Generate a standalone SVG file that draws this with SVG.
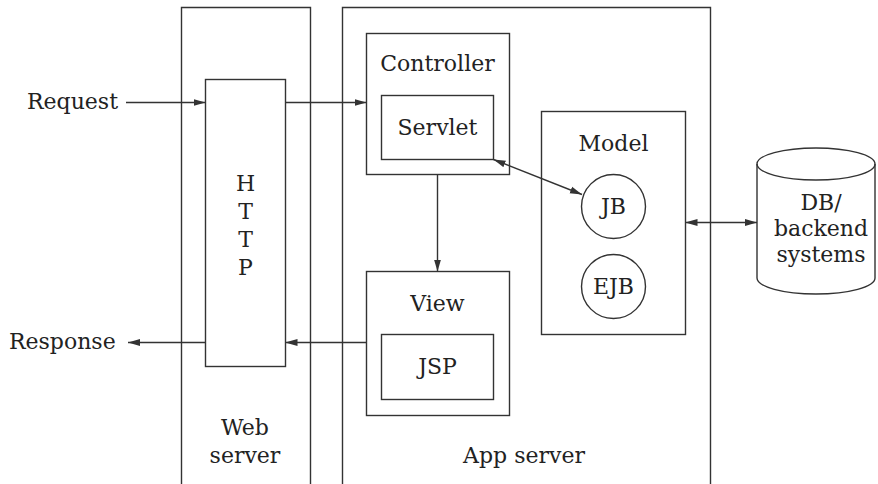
<svg xmlns="http://www.w3.org/2000/svg" width="878" height="484" viewBox="0 0 878 484">
<style>
.b{fill:none;stroke:#333;stroke-width:1.4}
.c{fill:none;stroke:#333;stroke-width:1.4}
text{font-family:"DejaVu Serif","Liberation Serif",serif;font-size:22px;fill:#222}
.m{text-anchor:middle}
</style>
<defs>
<marker id="ah" viewBox="0 0 12 8" refX="12" refY="4" markerWidth="12" markerHeight="8" markerUnits="userSpaceOnUse" orient="auto-start-reverse">
<path d="M0,0.5 L12,4 L0,7.5 Z" fill="#333"/>
</marker>
</defs>
<g id="web-server">
<path class="b" d="M181.5,484 V7.5 H310.5 V484"/>
<text class="m" x="245" y="435">Web</text>
<text class="m" x="245" y="463">server</text>
</g>
<g id="app-server">
<path class="b" d="M342.5,484 V7.5 H710.5 V484"/>
<text class="m" x="524" y="463">App server</text>
</g>
<g id="http">
<rect class="b" x="205.5" y="79.5" width="80" height="287"/>
<text class="m" x="245.5" y="191">H</text>
<text class="m" x="245.5" y="219">T</text>
<text class="m" x="245.5" y="247">T</text>
<text class="m" x="245.5" y="275">P</text>
</g>
<g id="controller">
<rect class="b" x="366.5" y="33.5" width="143" height="141"/>
<text class="m" x="437.5" y="71">Controller</text>
</g>
<g id="servlet">
<rect class="b" x="381.5" y="95.5" width="112" height="64"/>
<text class="m" x="437.5" y="135">Servlet</text>
</g>
<g id="view">
<rect class="b" x="366.5" y="271.5" width="143" height="144"/>
<text class="m" x="437.5" y="311">View</text>
</g>
<g id="jsp">
<rect class="b" x="381.5" y="334.5" width="112" height="65"/>
<text class="m" x="437.5" y="374">JSP</text>
</g>
<g id="model">
<rect class="b" x="541.5" y="111.5" width="144" height="223"/>
<text class="m" x="613.5" y="151">Model</text>
</g>
<g id="jb">
<circle class="b" cx="613.5" cy="206.5" r="32"/>
<text class="m" x="613.5" y="214">JB</text>
</g>
<g id="ejb">
<circle class="b" cx="613.5" cy="286.5" r="32"/>
<text class="m" x="613.5" y="294">EJB</text>
</g>
<g id="db">
<path class="b" d="M757,164 V278 A59,16 0 0 0 875,278 V164"/>
<ellipse class="b" cx="816" cy="164" rx="59" ry="16"/>
<text class="m" x="821" y="210">DB/</text>
<text class="m" x="821" y="236">backend</text>
<text class="m" x="821" y="262">systems</text>
</g>
<g id="request">
<text x="27" y="109">Request</text>
</g>
<g id="response">
<text x="9" y="349">Response</text>
</g>
<g id="connectors">
<line class="c" x1="126" y1="102.5" x2="205.5" y2="102.5" marker-end="url(#ah)"/>
<line class="c" x1="285.5" y1="102.5" x2="366.5" y2="102.5" marker-end="url(#ah)"/>
<line class="c" x1="437.5" y1="174.5" x2="437.5" y2="271.5" marker-end="url(#ah)"/>
<line class="c" x1="493.5" y1="159.5" x2="582" y2="194.5" marker-start="url(#ah)" marker-end="url(#ah)"/>
<line class="c" x1="685.5" y1="222.5" x2="757" y2="222.5" marker-start="url(#ah)" marker-end="url(#ah)"/>
<line class="c" x1="366.5" y1="342.5" x2="285.5" y2="342.5" marker-end="url(#ah)"/>
<line class="c" x1="205.5" y1="342.5" x2="128" y2="342.5" marker-end="url(#ah)"/>
</g>
</svg>
